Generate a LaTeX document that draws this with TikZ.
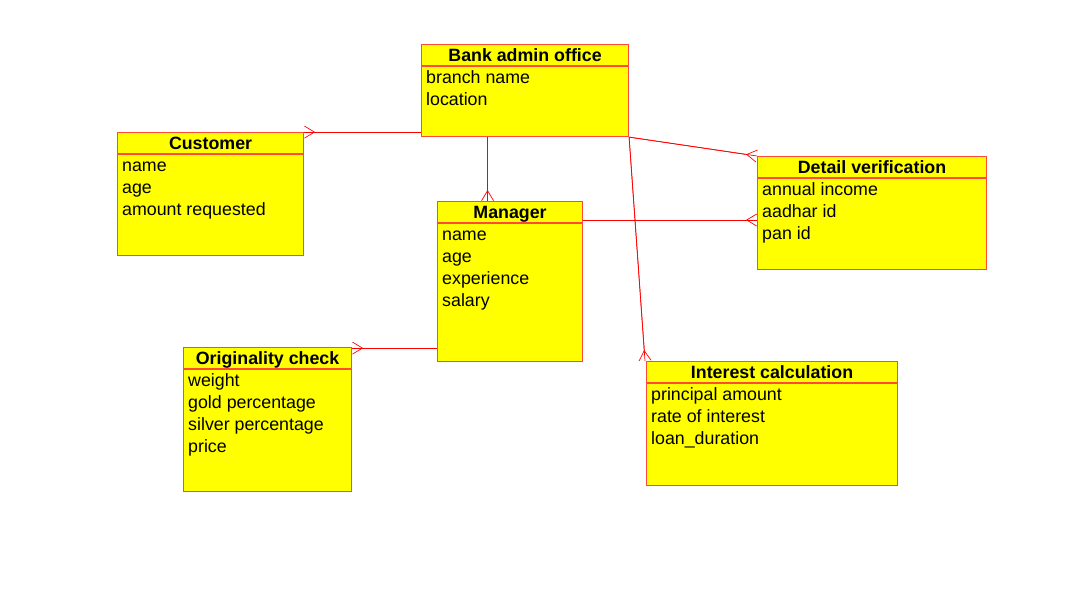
\documentclass[tikz,border=0pt]{standalone}
\usepackage{fontspec}
\setmainfont{Liberation Sans}
\usetikzlibrary{positioning,calc,arrows.meta}
\definecolor{erfill}{HTML}{FFFF00}
\definecolor{erline}{HTML}{FF4A3A}
\begin{document}
\begin{tikzpicture}[x=1pt,y=-1pt,
    ent/.style={draw=erline,fill=erfill,line width=1.1pt,anchor=north west,inner sep=0pt},
    ttl/.style={anchor=base,inner sep=0pt,font=\fontsize{17.8}{22}\selectfont\bfseries},
    att/.style={anchor=north west,inner sep=0pt,align=left,font=\fontsize{17.8}{22}\selectfont},
    rel/.style={draw=red,line width=0.7pt,-{Straight Barb[reversed,length=10pt,width=12pt]},postaction={draw=red,-}}]
    \useasboundingbox (0,0) rectangle (1077,606);
    % entities
    \node[ent,minimum width=207pt,minimum height=92pt] (bank) at (421,44) {};
    \node[ent,minimum width=186pt,minimum height=123pt] (cust) at (117,132) {};
    \node[ent,minimum width=145pt,minimum height=160pt] (mgr) at (437,201) {};
    \node[ent,minimum width=229pt,minimum height=113pt] (detail) at (757,156) {};
    \node[ent,minimum width=168pt,minimum height=144pt] (orig) at (183,347) {};
    \node[ent,minimum width=251pt,minimum height=124pt] (intr) at (646,361) {};
    \foreach \e/\t in {bank/Bank admin office,cust/Customer,mgr/Manager,detail/Detail verification,orig/Originality check,intr/Interest calculation}{
      \draw[erline,line width=1.1pt] ([yshift=-22pt]\e.north west) -- ([yshift=-22pt]\e.north east);
      \node[ttl] (\e-t) at ([yshift=-17pt]\e.north) {\t};
    }
    % attributes
    \node[att] (bank-a) at ([xshift=5pt,yshift=-23.6pt]bank.north west) {\strut branch name\\location};
    \node[att] (cust-a) at ([xshift=5pt,yshift=-23.6pt]cust.north west) {\strut name\\age\\amount requested};
    \node[att] (mgr-a) at ([xshift=5pt,yshift=-23.6pt]mgr.north west) {\strut name\\age\\experience\\salary};
    \node[att] (detail-a) at ([xshift=5pt,yshift=-23.6pt]detail.north west) {\strut annual income\\aadhar id\\pan id};
    \node[att] (orig-a) at ([xshift=5pt,yshift=-23.6pt]orig.north west) {\strut weight\\gold percentage\\silver percentage\\price};
    \node[att] (intr-a) at ([xshift=5pt,yshift=-23.6pt]intr.north west) {\strut principal amount\\rate of interest\\loan\_duration};
    % relations
    \draw[rel] ([yshift=5pt]bank.south west) -- ([yshift=5pt]bank.south west -| cust.east);
    \draw[rel] ([xshift=-22.5pt]mgr.north |- bank.south) -- ([xshift=-22.5pt]mgr.north);
    \draw[rel] (bank.south east) -- (detail.north west);
    \draw[rel] ([yshift=-19pt]mgr.north east) -- ([yshift=-19pt]mgr.north east -| detail.west);
    \draw[rel] (bank.south east) -- ([xshift=-1pt]intr.north west);
    \draw[rel] ([yshift=14pt]mgr.south west) -- ([yshift=14pt]mgr.south west -| orig.east);
\end{tikzpicture}
\end{document}
